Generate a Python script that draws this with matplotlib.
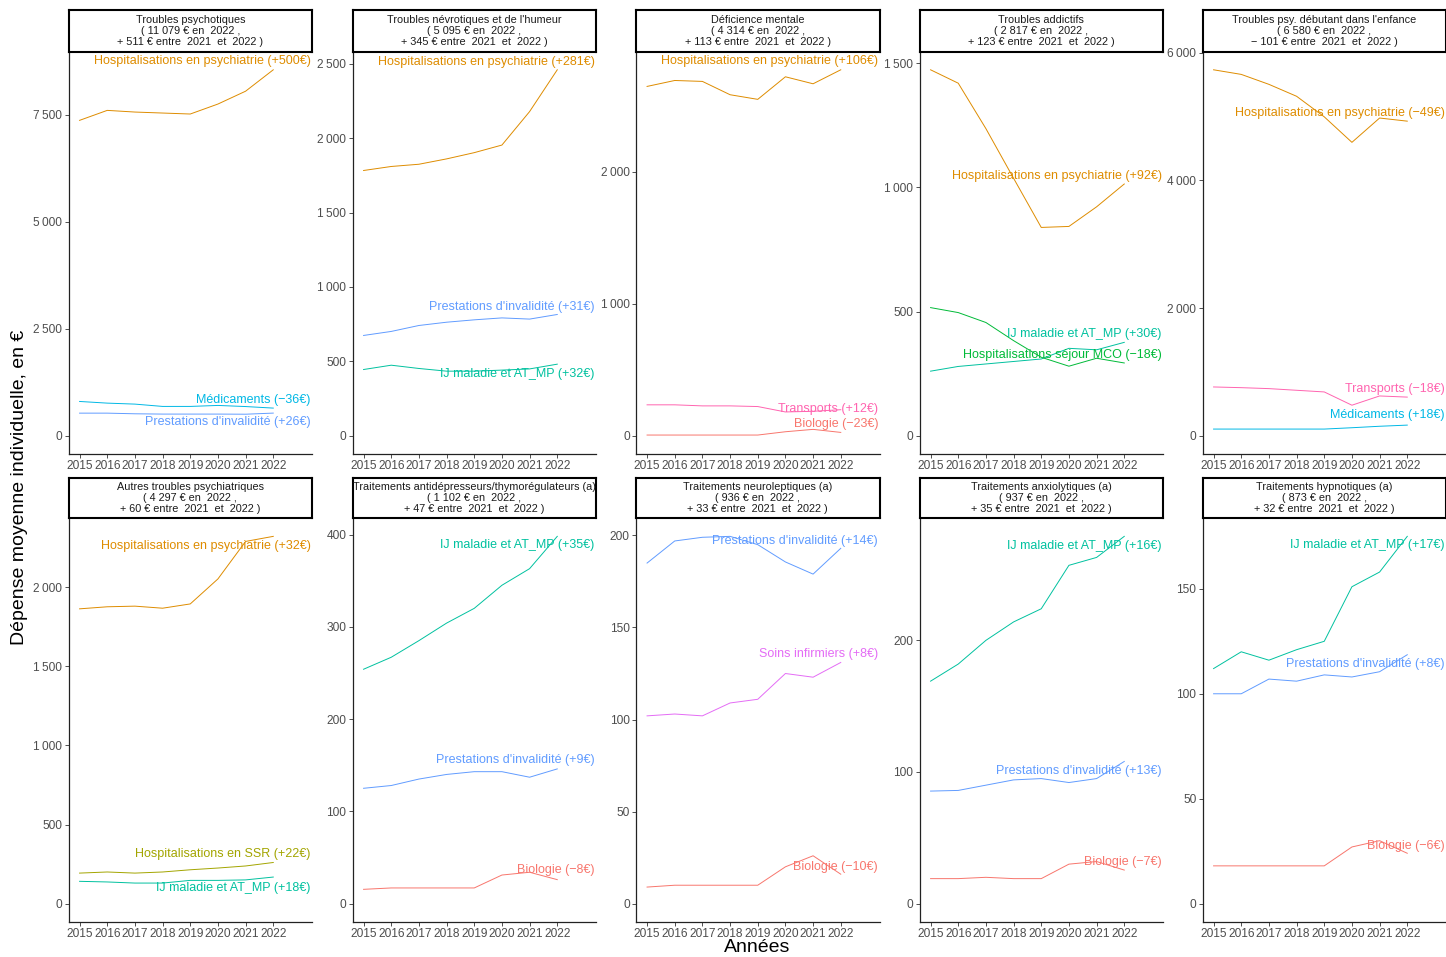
import matplotlib
matplotlib.use("Agg")
import matplotlib.pyplot as plt
from matplotlib.ticker import FuncFormatter, MultipleLocator

plt.rcParams["font.family"] = ["Liberation Sans", "DejaVu Sans"]

W, H = 1446, 957
years = [2015, 2016, 2017, 2018, 2019, 2020, 2021, 2022]

COLORS = {
    "Hospitalisations en psychiatrie": "#DE8C00",
    "Médicaments": "#00B8E5",
    "Prestations d'invalidité": "#619CFF",
    "IJ maladie et AT_MP": "#00C19F",
    "Transports": "#FF64B0",
    "Biologie": "#F8766D",
    "Hospitalisations séjour MCO": "#00BA38",
    "Hospitalisations en SSR": "#A3A500",
    "Soins infirmiers": "#E46CF5",
}

# panel titles
titles = [
    "Troubles psychotiques\n( 11 079 € en  2022 ,\n+ 511 € entre  2021  et  2022 )",
    "Troubles névrotiques et de l'humeur\n( 5 095 € en  2022 ,\n+ 345 € entre  2021  et  2022 )",
    "Déficience mentale\n( 4 314 € en  2022 ,\n+ 113 € entre  2021  et  2022 )",
    "Troubles addictifs\n( 2 817 € en  2022 ,\n+ 123 € entre  2021  et  2022 )",
    "Troubles psy. débutant dans l'enfance\n( 6 580 € en  2022 ,\n\u2212 101 € entre  2021  et  2022 )",
    "Autres troubles psychiatriques\n( 4 297 € en  2022 ,\n+ 60 € entre  2021  et  2022 )",
    "Traitements antidépresseurs/thymorégulateurs (a)\n( 1 102 € en  2022 ,\n+ 47 € entre  2021  et  2022 )",
    "Traitements neuroleptiques (a)\n( 936 € en  2022 ,\n+ 33 € entre  2021  et  2022 )",
    "Traitements anxiolytiques (a)\n( 937 € en  2022 ,\n+ 35 € entre  2021  et  2022 )",
    "Traitements hypnotiques (a)\n( 873 € en  2022 ,\n+ 32 € entre  2021  et  2022 )",
]

# series per panel: values 2015..2022
psychotiques_hosp = [7366, 7599, 7560, 7537, 7514, 7747, 8047, 8547]
psychotiques_medic = [800, 761, 738, 684, 684, 707, 681, 645]
psychotiques_inval = [527, 527, 512, 505, 505, 505, 502, 528]

nevrotiques_hosp = [1783, 1810, 1825, 1861, 1903, 1954, 2179, 2460]
nevrotiques_inval = [674, 701, 741, 763, 779, 792, 784, 815]
nevrotiques_ij = [445, 474, 452, 434, 434, 441, 449, 481]

deficience_hosp = [2647, 2692, 2685, 2584, 2549, 2720, 2667, 2773]
deficience_transp = [234, 234, 226, 226, 221, 180, 185, 197]
deficience_bio = [5, 5, 5, 5, 5, 30, 48, 25]

addictifs_hosp = [1474, 1420, 1237, 1037, 839, 843, 922, 1014]
addictifs_ij = [260, 279, 289, 299, 309, 352, 346, 376]
addictifs_mco = [516, 496, 456, 383, 316, 280, 312, 293]

enfance_hosp = [5735, 5663, 5507, 5320, 4998, 4598, 4979, 4930]
enfance_transp = [764, 753, 738, 712, 686, 478, 623, 605]
enfance_medic = [104, 104, 104, 104, 104, 125, 148, 166]

autres_hosp = [1863, 1876, 1880, 1867, 1894, 2052, 2289, 2321]
autres_ssr = [193, 200, 193, 200, 214, 225, 238, 260]
autres_ij = [141, 137, 130, 130, 147, 147, 150, 168]

antidep_ij = [254, 267, 285, 304, 320, 345, 363, 398]
antidep_inval = [125, 128, 135, 140, 143, 143, 137, 146]
antidep_bio = [15.5, 17, 17, 17, 17, 31, 34, 26]

neuro_inval = [185, 197, 199, 199.5, 195, 185.6, 179, 193]
neuro_soins = [102, 103, 102, 109, 111, 125, 123, 131]
neuro_bio = [9, 10, 10, 10, 10, 20, 26, 16]

anxio_ij = [169, 182, 200, 214, 224, 257, 263, 279]
anxio_inval = [85.5, 86, 90, 94, 95, 92, 95, 108]
anxio_bio = [19, 19, 20, 19, 19, 30, 32, 25.5]

hypno_ij = [112, 120, 116, 121, 125, 151, 158, 175]
hypno_inval = [100, 100, 107, 106, 109, 108, 110.5, 118.6]
hypno_bio = [18, 18, 18, 18, 18, 27, 30, 24]

# (poste, values, change 2021-2022, label height)
panels = [
    [("Hospitalisations en psychiatrie", psychotiques_hosp, "+500€", 8757),
     ("Médicaments", psychotiques_medic, "\u221236€", 831),
     ("Prestations d'invalidité", psychotiques_inval, "+26€", 311)],
    [("Hospitalisations en psychiatrie", nevrotiques_hosp, "+281€", 2515),
     ("Prestations d'invalidité", nevrotiques_inval, "+31€", 864),
     ("IJ maladie et AT_MP", nevrotiques_ij, "+32€", 418)],
    [("Hospitalisations en psychiatrie", deficience_hosp, "+106€", 2836),
     ("Transports", deficience_transp, "+12€", 201),
     ("Biologie", deficience_bio, "\u221223€", 88)],
    [("Hospitalisations en psychiatrie", addictifs_hosp, "+92€", 1047),
     ("IJ maladie et AT_MP", addictifs_ij, "+30€", 410),
     ("Hospitalisations séjour MCO", addictifs_mco, "\u221218€", 327)],
    [("Hospitalisations en psychiatrie", enfance_hosp, "\u221249€", 5065),
     ("Transports", enfance_transp, "\u221218€", 738),
     ("Médicaments", enfance_medic, "+18€", 322)],
    [("Hospitalisations en psychiatrie", autres_hosp, "+32€", 2262),
     ("Hospitalisations en SSR", autres_ssr, "+22€", 315),
     ("IJ maladie et AT_MP", autres_ij, "+18€", 101)],
    [("IJ maladie et AT_MP", antidep_ij, "+35€", 389),
     ("Prestations d'invalidité", antidep_inval, "+9€", 156),
     ("Biologie", antidep_bio, "\u22128€", 36)],
    [("Prestations d'invalidité", neuro_inval, "+14€", 197),
     ("Soins infirmiers", neuro_soins, "+8€", 135.5),
     ("Biologie", neuro_bio, "\u221210€", 20)],
    [("IJ maladie et AT_MP", anxio_ij, "+16€", 272),
     ("Prestations d'invalidité", anxio_inval, "+13€", 101),
     ("Biologie", anxio_bio, "\u22127€", 31.6)],
    [("IJ maladie et AT_MP", hypno_ij, "+17€", 170.8),
     ("Prestations d'invalidité", hypno_inval, "+8€", 114),
     ("Biologie", hypno_bio, "\u22126€", 27.5)],
]

y_steps = [2500, 500, 1000, 500, 2000, 500, 100, 50, 100, 50]


def fmt_thousands(v, _):
    s = f"{int(round(v)):,}".replace(",", "\u2009")
    return s.replace("-", "\u2212")


fig = plt.figure(figsize=(W / 100, H / 100), dpi=100)

col_left = [68.5, 352.5, 636, 919.5, 1202.5]
col_w = 243.5
rows = [(10, 51.5, 454), (477.5, 518, 922)]  # strip top, panel top, panel bottom

for i, series in enumerate(panels):
    r, c = divmod(i, 5)
    s_top, p_top, p_bot = rows[r]
    x0 = col_left[c]

    ax = fig.add_axes([x0 / W, 1 - p_bot / H, col_w / W, (p_bot - p_top) / H])
    ymax = max(max(v) for _, v, _, _ in series)
    for name, vals, delta, ylab in series:
        col = COLORS[name]
        ax.plot(years, vals, color=col, lw=0.7)
        ax.text(2023.35, ylab, f"{name} ({delta})", color=col, fontsize=9,
                ha="right", va="center")

    ax.set_xlim(2015 - 0.4, 2023 + 0.4)
    ax.set_ylim(-0.05 * ymax, 1.05 * ymax)
    ax.set_xticks(years)
    ax.yaxis.set_major_locator(MultipleLocator(y_steps[i]))
    ax.yaxis.set_major_formatter(FuncFormatter(fmt_thousands))
    ax.tick_params(axis="both", labelsize=8.6, colors="#333333", length=3,
                   width=0.6, labelcolor="#4D4D4D", pad=1.5)
    for side in ("top", "right"):
        ax.spines[side].set_visible(False)
    for side in ("left", "bottom"):
        ax.spines[side].set_linewidth(0.9)
        ax.spines[side].set_color("#222222")

    strip = fig.add_axes([x0 / W, 1 - p_top / H, col_w / W, (p_top - s_top) / H])
    strip.set_xticks([])
    strip.set_yticks([])
    for sp in strip.spines.values():
        sp.set_linewidth(1.5)
        sp.set_color("black")
    strip.text(0.5, 0.5, titles[i], ha="center", va="center", fontsize=7.8,
               linespacing=1.12, color="#1A1A1A", transform=strip.transAxes)

fig.text(20 / W, 1 - 487 / H, "Dépense moyenne individuelle, en €", rotation=90,
         ha="center", va="center", fontsize=14)
fig.text(757 / W, 1 - 947 / H, "Années", ha="center", va="center", fontsize=14)

fig.savefig("out.png", dpi=100, facecolor="white")
